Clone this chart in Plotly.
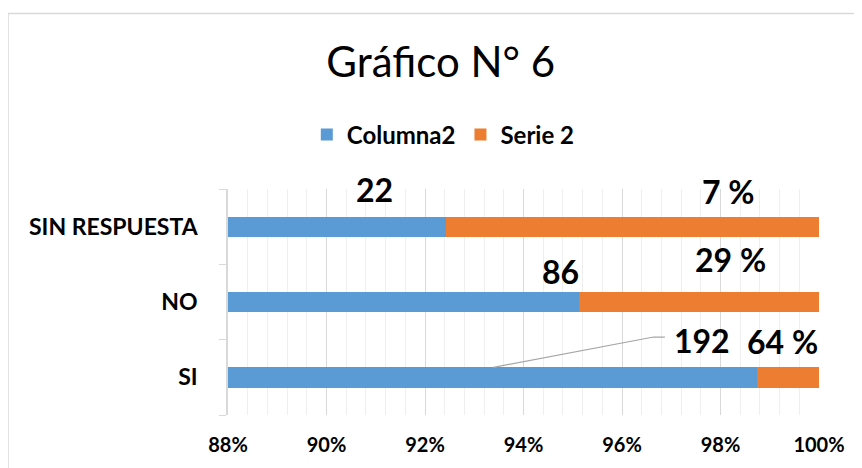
import plotly.graph_objects as go

# data (stacked percentage bars, axis cut at 88%)
categories = ['SI', 'NO', 'SIN RESPUESTA']
columna2_share = [98.75, 95.12, 92.43]
serie2_share = [1.25, 4.88, 7.57]
columna2_labels = ['192', '86', '22']
serie2_labels = ['64 %', '29 %', '7 %']
x_ticks = [88, 90, 92, 94, 96, 98, 100]

blue = '#5B9BD5'
orange = '#ED7D31'
font = 'Lato'

fig = go.Figure()
fig.add_trace(go.Bar(y=categories, x=columna2_share, orientation='h', name='Columna2',
                     marker=dict(color=blue, line=dict(width=0)), width=0.27))
fig.add_trace(go.Bar(y=categories, x=serie2_share, orientation='h', name='Serie 2',
                     marker=dict(color=orange, line=dict(width=0)), width=0.27))

# hand placed data labels, like the manually moved labels of the original
blue_pos = [(97.62, 0.49), (94.75, 1.40), (90.97, 2.49)]
orange_pos = [(99.26, 0.47), (98.21, 1.56), (98.17, 2.465)]
annotations = []
for txt, (px, py) in zip(columna2_labels, blue_pos):
    annotations.append(dict(x=px, y=py, xref='x', yref='y', text=txt, showarrow=False,
                            font=dict(family=font, size=32, color='black', weight='bold')))
for txt, (px, py) in zip(serie2_labels, orange_pos):
    annotations.append(dict(x=px, y=py, xref='x', yref='y', text=txt, showarrow=False,
                            font=dict(family=font, size=32, color='black', weight='bold')))

shapes = [
    # leader line of the "192" label
    dict(type='path', xref='x', yref='y', path='M 93.39 0.133 L 96.64 0.535 L 96.87 0.535',
         line=dict(color='#A6A6A6', width=1.2)),
    # chart border, cut at the right and the bottom
    dict(type='rect', xref='paper', yref='paper', x0=-0.3723, y0=-1, x1=2, y1=1.7765,
         line=dict(color='#D9D9D9', width=1.5), layer='below'),
]

# the page body adds 8px, so margins are 8px smaller than the target positions
fig.update_layout(
    width=862, height=468,
    barmode='stack',
    paper_bgcolor='white', plot_bgcolor='white',
    margin=dict(l=220, r=51, t=181, b=61, autoexpand=False),
    title=dict(text='Gráfico N° 6', x=0.502, y=0.885, xanchor='center', yanchor='middle',
               font=dict(family=font, size=42, color='black')),
    legend=dict(orientation='h', x=0.505, y=0.729, xref='container', yref='container',
                xanchor='center', yanchor='middle',
                font=dict(family=font, size=24, color='black', weight='bold'),
                traceorder='normal'),
    annotations=annotations,
    shapes=shapes,
)
fig.update_xaxes(range=[88, 100], tickvals=x_ticks, ticktext=[f'{v}%' for v in x_ticks],
                 showgrid=True, gridcolor='#D9D9D9', gridwidth=1.2,
                 minor=dict(dtick=0.4, tick0=88, showgrid=True, gridcolor='#EFEFEF', gridwidth=1),
                 zeroline=False, showline=False, ticks='', ticklabelstandoff=16,
                 automargin=False,
                 tickfont=dict(family=font, size=20, color='black', weight='bold'))
fig.update_yaxes(categoryorder='array', categoryarray=categories, range=[-0.5, 2.5],
                 showline=True, linecolor='#D9D9D9', linewidth=1.5,
                 ticks='outside', tickson='boundaries', ticklen=7, tickcolor='#D9D9D9',
                 ticklabelstandoff=24, showgrid=False, automargin=False,
                 tickfont=dict(family=font, size=23, color='black', weight='bold'))

fig.write_html('out.html')
